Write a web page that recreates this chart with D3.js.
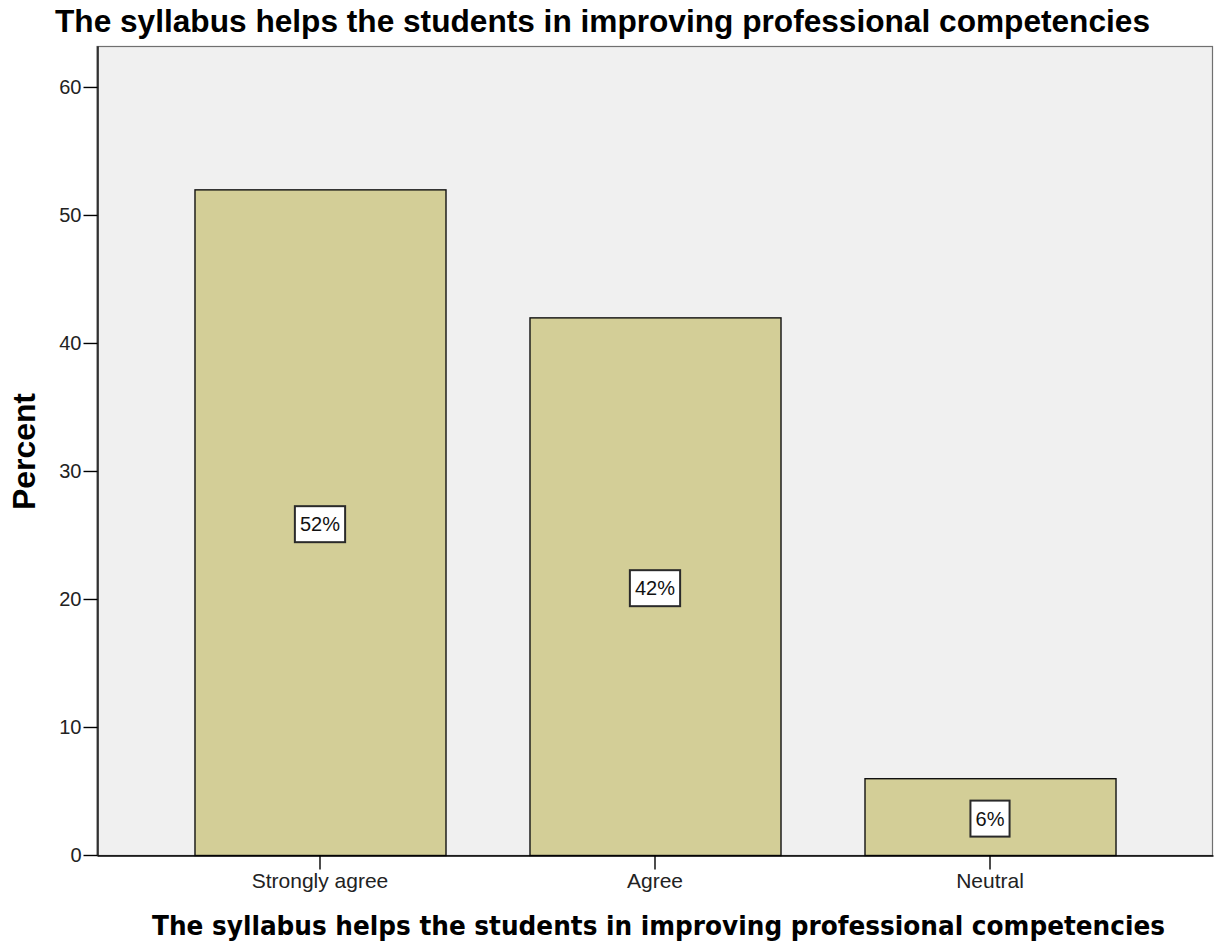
<!DOCTYPE html>
<html><head><meta charset="utf-8">
<script src="https://cdn.jsdelivr.net/npm/d3@7"></script>
<style>body{margin:0;background:#fff;} svg{display:block;}</style>
</head><body>
<svg id="chart" width="1214" height="951"></svg>
<script>
const categories = ["Strongly agree", "Agree", "Neutral"];
const percents = [52, 42, 6];
const yTicks = [0, 10, 20, 30, 40, 50, 60];
const chartTitle = "The syllabus helps the students in improving professional competencies";
const xTitle = "The syllabus helps the students in improving professional competencies";
const yTitle = "Percent";

const svg = d3.select("#chart");
const pL = 97, pR = 1213, pT = 46, pB = 855;
const sans = "Liberation Sans, Arial, sans-serif";

const y = d3.scaleLinear().domain([0, 63.2]).range([pB, pT]);
const x = d3.scaleBand().domain(categories).range([pL, pR]).paddingInner(0.2507).paddingOuter(0.291);

// plot background with frame
svg.append("rect").attr("x", pL).attr("y", pT + 0.5).attr("width", pR - pL - 0.5).attr("height", pB - pT)
  .attr("fill", "#f0f0f0").attr("stroke", "#707070").attr("stroke-width", 1.2);

// bars
svg.selectAll("rect.bar").data(percents).enter().append("rect").attr("class", "bar")
  .attr("x", (d, i) => x(categories[i]) + 0.5)
  .attr("y", d => y(d) + 0.5)
  .attr("width", x.bandwidth())
  .attr("height", d => pB - y(d))
  .attr("fill", "#d3ce97").attr("stroke", "#111").attr("stroke-width", 1.4);

// axes
const yAxis = d3.axisLeft(y).tickValues(yTicks).tickSize(14).tickSizeOuter(0).tickPadding(2).tickFormat(d3.format("d"));
const gy = svg.append("g").attr("transform", `translate(${pL + 0.5},0)`).call(yAxis);
gy.select(".domain").attr("stroke", "#000").attr("stroke-width", 1.4);
gy.selectAll(".tick line").attr("stroke", "#000").attr("stroke-width", 1.4);
gy.selectAll("text").attr("font-family", sans).attr("font-size", 20).attr("fill", "#222");

const xAxis = d3.axisBottom(x).tickSize(14).tickPadding(4).tickSizeOuter(0);
const gx = svg.append("g").attr("transform", `translate(0,${pB + 0.5})`).call(xAxis);
gx.select(".domain").attr("stroke", "#000").attr("stroke-width", 1.4);
gx.selectAll(".tick line").attr("stroke", "#000").attr("stroke-width", 1.4);
gx.selectAll("text").attr("font-family", sans).attr("font-size", 21).attr("fill", "#222");

// value labels
const lab = svg.selectAll("g.lab").data(percents).enter().append("g").attr("class", "lab")
  .attr("transform", (d, i) => `translate(${x(categories[i]) + x.bandwidth() / 2},${y(d / 2) + 2})`);
lab.append("text").text(d => d + "%")
  .attr("text-anchor", "middle").attr("dy", "0.36em")
  .attr("font-family", sans).attr("font-size", 20).attr("fill", "#111")
  .each(function () {
    const bb = this.getBBox();
    d3.select(this.parentNode).insert("rect", "text")
      .attr("x", -bb.width / 2 - 5).attr("y", -18).attr("width", bb.width + 10).attr("height", 36)
      .attr("fill", "#fff").attr("stroke", "#2a2a2a").attr("stroke-width", 2);
  });

// titles
svg.append("text").attr("x", 602.5).attr("y", 32).attr("text-anchor", "middle")
  .attr("font-family", sans).attr("font-weight", "bold").attr("font-size", 31)
  .attr("textLength", 1095).attr("lengthAdjust", "spacingAndGlyphs")
  .attr("fill", "#000").text(chartTitle);
svg.append("text").attr("x", 658.5).attr("y", 935).attr("text-anchor", "middle")
  .attr("font-family", "DejaVu Sans, sans-serif").attr("font-weight", "bold").attr("font-size", 26)
  .attr("textLength", 1013).attr("lengthAdjust", "spacingAndGlyphs")
  .attr("fill", "#000").text(xTitle);
svg.append("text").attr("transform", "translate(35,451.5) rotate(-90)").attr("text-anchor", "middle")
  .attr("font-family", sans).attr("font-weight", "bold").attr("font-size", 31)
  .attr("textLength", 117).attr("lengthAdjust", "spacingAndGlyphs")
  .attr("fill", "#000").text(yTitle);
</script>
</body></html>
